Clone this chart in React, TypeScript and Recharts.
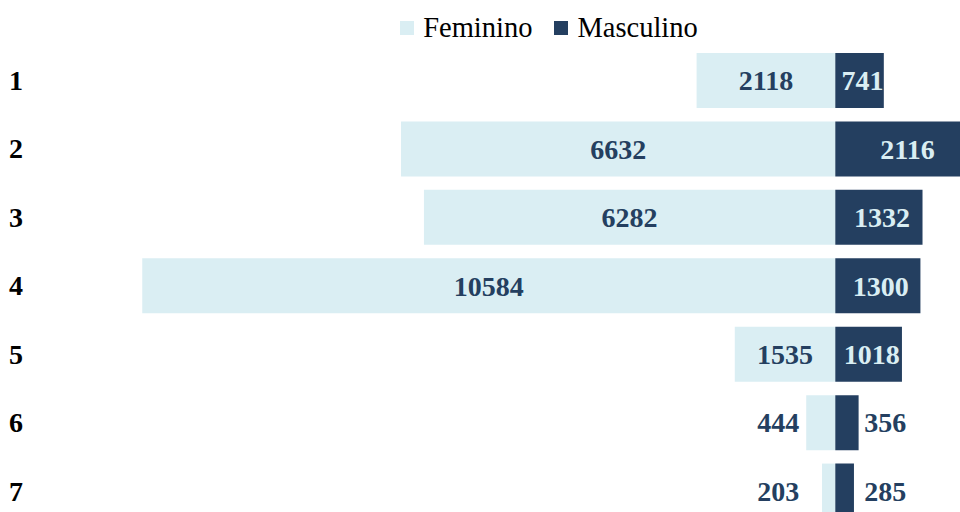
import React from "react";
import { BarChart, Bar, XAxis, YAxis, Legend, LabelList } from "recharts";

const categories = ["1", "2", "3", "4", "5", "6", "7"];
const feminino = [2118, 6632, 6282, 10584, 1535, 444, 203];
const masculino = [741, 2116, 1332, 1300, 1018, 356, 285];

const LIGHT = "#DAEEF3";
const DARK = "#243F60";
const FONT = "'Times New Roman', 'Liberation Serif', serif";

// feminino goes to the left, so it is stored negative
const data = categories.map((name, i) => ({
  name,
  Feminino: -feminino[i],
  Masculino: masculino[i],
}));

const box = (props: any) => {
  const vb = props.viewBox || props;
  const left = Math.min(vb.x, vb.x + vb.width);
  const right = Math.max(vb.x, vb.x + vb.width);
  return { left, right, w: right - left, cy: vb.y + vb.height / 2 };
};

const FemLabel = (props: any) => {
  const { left, right, w, cy } = box(props);
  const inside = w > 40;
  return (
    <text
      x={inside ? left + w / 2 : right - 36}
      y={cy}
      dy="0.35em"
      textAnchor={inside ? "middle" : "end"}
      fill={DARK}
      fontSize={28}
      fontWeight="bold"
      fontFamily={FONT}
    >
      {Math.abs(props.value)}
    </text>
  );
};

const MascLabel = (props: any) => {
  const { left, w, cy } = box(props);
  const inside = w > 40;
  return (
    <text
      x={inside ? left + w / 2 + 3 : left + 29}
      y={cy}
      dy="0.35em"
      textAnchor={inside ? "middle" : "start"}
      fill={inside ? LIGHT : DARK}
      fontSize={28}
      fontWeight="bold"
      fontFamily={FONT}
    >
      {props.value}
    </text>
  );
};

const CategoryTick = (props: any) => {
  const { y, payload } = props;
  return (
    <text
      x={9}
      y={y}
      dy="0.35em"
      textAnchor="start"
      fill="#000"
      fontSize={28}
      fontWeight="bold"
      fontFamily={FONT}
    >
      {payload.value}
    </text>
  );
};

const renderLegend = (props: any) => {
  const { payload } = props;
  return (
    <div
      style={{
        display: "flex",
        justifyContent: "center",
        alignItems: "center",
        fontFamily: FONT,
        fontSize: 28.5,
        color: "#000",
      }}
    >
      {payload.map((entry: any, i: number) => (
        <div
          key={entry.value}
          style={{ display: "flex", alignItems: "center", marginLeft: i ? 22 : 0 }}
        >
          <span
            style={{
              display: "inline-block",
              width: 14,
              height: 14,
              background: entry.color,
              marginRight: 9,
            }}
          />
          <span>{entry.value}</span>
        </div>
      ))}
    </div>
  );
};

export default function App() {
  return (
    <div
      style={{
        position: "fixed",
        left: 0,
        top: 0,
        width: 960,
        height: 512,
        overflow: "hidden",
        background: "#fff",
      }}
    >
      <BarChart
        width={1100}
        height={530}
        data={data}
        layout="vertical"
        stackOffset="sign"
        margin={{ top: 46, right: 101, left: 0, bottom: 5 }}
      >
        <XAxis type="number" domain={[-11000, 2500]} hide allowDataOverflow />
        <YAxis
          type="category"
          dataKey="name"
          width={115}
          axisLine={false}
          tickLine={false}
          interval={0}
          tick={<CategoryTick />}
        />
        <Legend
          verticalAlign="middle"
          align="center"
          layout="horizontal"
          wrapperStyle={{ top: 12, left: 0, width: 1098 }}
          content={renderLegend}
        />
        <Bar
          dataKey="Feminino"
          stackId="a"
          fill={LIGHT}
          barSize={55}
          isAnimationActive={false}
        >
          <LabelList dataKey="Feminino" content={FemLabel} />
        </Bar>
        <Bar
          dataKey="Masculino"
          stackId="a"
          fill={DARK}
          barSize={55}
          isAnimationActive={false}
        >
          <LabelList dataKey="Masculino" content={MascLabel} />
        </Bar>
      </BarChart>
    </div>
  );
}
